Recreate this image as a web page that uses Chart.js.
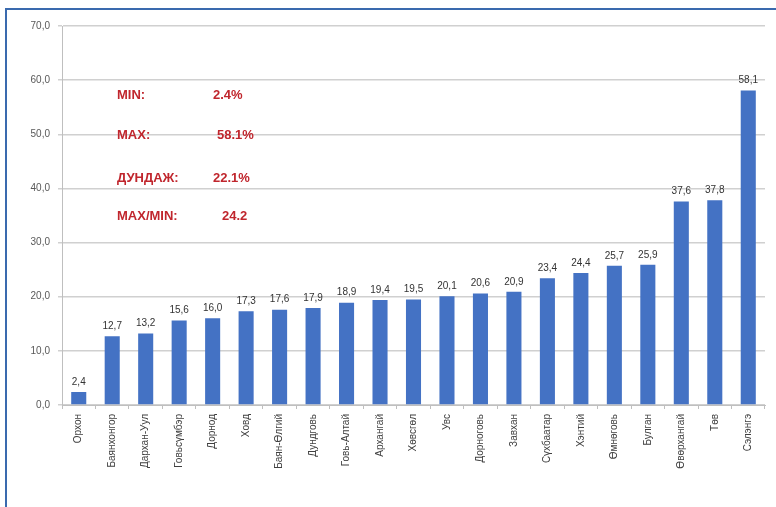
<!DOCTYPE html>
<html>
<head>
<meta charset="utf-8">
<script src="https://cdn.jsdelivr.net/npm/chart.js@4"></script>
<style>
  html, body { margin: 0; padding: 0; background: #fff; }
  #wrap { position: relative; width: 776px; height: 507px; }
  canvas { display: block; }
</style>
</head>
<body>
<div id="wrap"><canvas id="myChart" width="776" height="507"></canvas></div>
<script>
// Chart data
const aimags = ['Орхон', 'Баянхонгор', 'Дархан-Уул', 'Говьсүмбэр', 'Дорнод', 'Ховд', 'Баян-Өлгий',
  'Дундговь', 'Говь-Алтай', 'Архангай', 'Хөвсгөл', 'Увс', 'Дорноговь', 'Завхан', 'Сүхбаатар',
  'Хэнтий', 'Өмнөговь', 'Булган', 'Өвөрхангай', 'Төв', 'Сэлэнгэ'];
const shares = [2.4, 12.7, 13.2, 15.6, 16.0, 17.3, 17.6, 17.9, 18.9, 19.4, 19.5, 20.1, 20.6, 20.9,
  23.4, 24.4, 25.7, 25.9, 37.6, 37.8, 58.1];
const statNames = ['MIN:', 'MAX:', 'ДУНДАЖ:', 'MAX/MIN:'];
const statValues = ['2.4%', '58.1%', '22.1%', '24.2'];

const fmt = v => v.toFixed(1).replace('.', ',');

// value labels on top of each bar
const barLabels = {
  id: 'barLabels',
  afterDatasetsDraw(chart) {
    const ctx = chart.ctx;
    const meta = chart.getDatasetMeta(0);
    ctx.save();
    ctx.font = '10px "Liberation Sans", Arial, sans-serif';
    ctx.fillStyle = '#333333';
    ctx.textAlign = 'center';
    ctx.textBaseline = 'bottom';
    meta.data.forEach((bar, i) => {
      ctx.fillText(fmt(shares[i]), bar.x, bar.y - 5);
    });
    ctx.restore();
  }
};

// red summary text and the outer frame
const extras = {
  id: 'extras',
  afterDraw(chart) {
    const ctx = chart.ctx;
    ctx.save();
    ctx.font = 'bold 13px "Liberation Sans", Arial, sans-serif';
    ctx.fillStyle = '#C0262D';
    ctx.textBaseline = 'middle';
    const rowsY = [95, 135, 178, 216];
    const valX = [213, 217, 213, 222];
    statNames.forEach((name, i) => {
      ctx.fillText(name, 117, rowsY[i]);
      ctx.fillText(statValues[i], valX[i], rowsY[i]);
    });
    // frame
    ctx.strokeStyle = '#3A6AAE';
    ctx.lineWidth = 2;
    ctx.beginPath();
    ctx.moveTo(6, 507);
    ctx.lineTo(6, 9);
    ctx.lineTo(776, 9);
    ctx.stroke();
    ctx.restore();
  }
};

document.addEventListener('DOMContentLoaded', () => {
  const ctx = document.getElementById('myChart').getContext('2d');
  Chart.defaults.font.family = '"Liberation Sans", Arial, sans-serif';

  new Chart(ctx, {
    type: 'bar',
    data: {
      labels: aimags,
      datasets: [{
        data: shares,
        backgroundColor: '#4472C4',
        barPercentage: 0.45,
        categoryPercentage: 1.0
      }]
    },
    options: {
      responsive: false,
      animation: false,
      layout: { padding: { left: 5, right: 11, top: 26, bottom: 0 } },
      plugins: {
        legend: { display: false },
        tooltip: { enabled: false }
      },
      scales: {
        x: {
          grid: {
            offset: true,
            drawOnChartArea: false,
            drawTicks: true,
            tickLength: 4,
            color: '#BFBFBF'
          },
          border: { color: '#BFBFBF' },
          ticks: {
            autoSkip: false,
            maxRotation: 90,
            minRotation: 90,
            color: '#404040',
            font: { size: 10 },
            padding: 5
          },
          afterFit(scale) { scale.height = 102; }
        },
        y: {
          min: 0,
          max: 70,
          ticks: {
            stepSize: 10,
            color: '#595959',
            font: { size: 10 },
            padding: 8,
            callback: v => fmt(v)
          },
          grid: {
            color: '#D0D0D0',
            lineWidth: 1.5,
            tickLength: 4
          },
          border: { color: '#BFBFBF' },
          afterFit(scale) { scale.width = 57; }
        }
      }
    },
    plugins: [barLabels, extras]
  });
});
</script>
</body>
</html>
